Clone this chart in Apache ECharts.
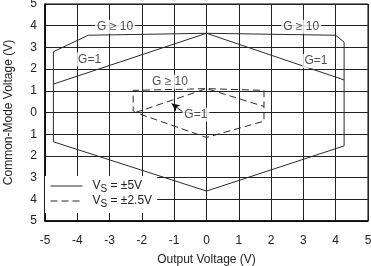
<!DOCTYPE html>
<html><head><meta charset="utf-8">
<script src="https://cdn.jsdelivr.net/npm/echarts@6/dist/echarts.min.js"></script>
<style>html,body{margin:0;padding:0;background:#fff}#c{width:371px;height:266px}</style>
</head><body><div id="c"></div>
<script>
// Output voltage (x) vs common-mode voltage (y)
const vs5G10 = [[-4.74,-1.35],[-4.74,2.8],[-3.66,3.56],[0,3.65],[4.0,3.56],[4.26,3.24],[4.26,-1.54],[0,-3.62],[-4.74,-1.35]];
const vs5G1 = [[-4.74,1.31],[0,3.65],[4.26,1.5]];
const vs25G10 = [[-2.2,0.0],[-2.27,0.08],[-2.27,1.02],[0,1.1],[1.78,1.02],[1.78,-0.4],[0,-1.15],[-2.2,0.0]];
const vs25G1 = [[-2.2,0.0],[0,1.1],[1.78,0.28]];
const arrowFrom = [-0.7, -0.01];
const arrowTo = [-1.08, 0.41];
const labelTexts = ['G ≥ 10','G ≥ 10','G=1','G=1','G ≥ 10','G=1'];
const labelX = [-2.83, 2.93, -3.62, 3.39, -1.13, -0.33];
const labelY = [3.95, 3.95, 2.45, 2.37, 1.42, -0.1];
const xTicks = [-5,-4,-3,-2,-1,0,1,2,3,4,5];
const yTicks = [-5,-4,-3,-2,-1,0,1,2,3,4,5];
const legendNames = ['Vs5','Vs25'];
const legendTexts = {Vs5:'{n|V}{s|S}{n| = ±5V}', Vs25:'{n|V}{s|S}{n| = ±2.5V}'};

const FONT = 'Liberation Sans, Arial, sans-serif';
const LINE = '#2a2a2a';
const chart = echarts.init(document.getElementById('c'), null, {renderer:'canvas'});
const solid = {color: LINE, width: 1, type: 'solid'};
const dashed = {color: LINE, width: 1, type: [7,4]};
function lineSeries(name, data, style, extra){
  return Object.assign({name, type:'line', data, symbol:'none', showSymbol:false, lineStyle:style,
    itemStyle:{color:LINE}, animation:false, silent:true, z:3}, extra||{});
}
chart.setOption({
  animation:false,
  grid:{left:45, right:3, top:4, bottom:45, show:true, borderColor:'#000', borderWidth:1,
    containLabel:false, outerBoundsMode:'none'},
  xAxis:{type:'value', min:xTicks[0], max:xTicks[xTicks.length-1], interval:1,
    name:'Output Voltage (V)', nameLocation:'middle', nameGap:33,
    nameTextStyle:{fontFamily:FONT, fontSize:12, color:'#222'},
    axisLine:{show:true, onZero:false, lineStyle:{color:'#000', width:1.5}},
    axisTick:{show:false},
    axisLabel:{fontFamily:FONT, fontSize:12, color:'#222', margin:14},
    splitLine:{show:true, lineStyle:{color:'#222', width:1}}},
  yAxis:{type:'value', min:yTicks[0], max:yTicks[yTicks.length-1], interval:1,
    name:'Common-Mode Voltage (V)', nameLocation:'middle', nameGap:30, nameRotate:90,
    nameTextStyle:{fontFamily:FONT, fontSize:12, color:'#222'},
    axisLine:{show:true, onZero:false, lineStyle:{color:'#000', width:1.5}},
    axisTick:{show:false},
    axisLabel:{fontFamily:FONT, fontSize:12, color:'#222', margin:8,
      formatter: v => v < 0 ? '{h|-}' + Math.abs(v) : String(v),
      rich:{h:{width:9, color:'rgba(0,0,0,0)', fontFamily:FONT, fontSize:12}}},
    splitLine:{show:true, lineStyle:{color:'#222', width:1}}},
  legend:{data:legendNames, orient:'vertical', left:45, top:176, padding:[4,5,4,5],
    backgroundColor:'#fff', itemWidth:32, itemHeight:14, itemGap:1,
    itemStyle:{opacity:0}, lineStyle:{width:1},
    formatter: n => legendTexts[n],
    textStyle:{fontFamily:FONT, fontSize:12, color:'#222', padding:[0,0,0,5],
      rich:{n:{fontFamily:FONT, fontSize:12, color:'#222'},
            s:{fontFamily:FONT, fontSize:10, color:'#222', padding:[6,0,0,0]}}},
    selectedMode:false},
  series:[
    lineSeries('Vs5', vs5G10, solid),
    lineSeries('Vs5', vs5G1, solid),
    lineSeries('Vs25', vs25G10, dashed),
    lineSeries('Vs25', vs25G1, dashed, {
      markLine:{silent:true, symbol:['none','arrow'], symbolSize:[6,8], animation:false,
        label:{show:false}, lineStyle:{color:'#111', width:1, type:'solid'},
        data:[[{coord:arrowFrom},{coord:arrowTo}]]}}),
    {type:'scatter', silent:true, animation:false, symbolSize:0, z:5,
      data: labelTexts.map((t,i)=>({name:t, value:[labelX[i], labelY[i]]})),
      label:{show:true, position:'inside', formatter:p=>p.name, fontFamily:FONT, fontSize:12,
        color:'#222', backgroundColor:'#fff', padding:[1,2]}}
  ]
});
</script></body></html>
